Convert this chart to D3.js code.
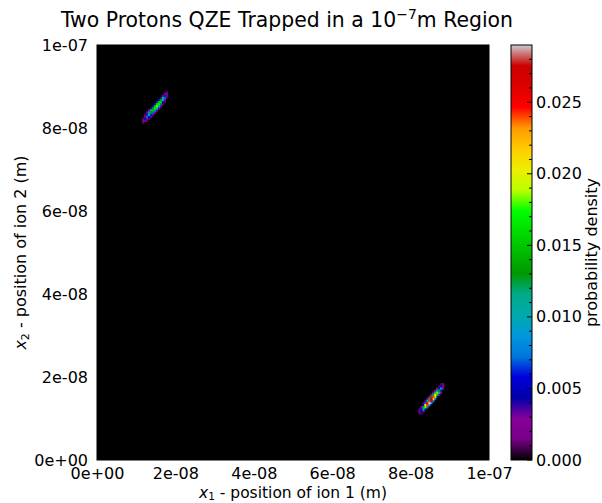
<!DOCTYPE html>
<html><head><meta charset="utf-8">
<script src="https://cdn.jsdelivr.net/npm/d3@7"></script>
<style>html,body{margin:0;padding:0;background:#fff}text{font-family:"DejaVu Sans",sans-serif}</style>
</head><body><svg id="c" width="602" height="503"></svg>
<script>
// ---- data ----
const xTicks = [0, 2e-8, 4e-8, 6e-8, 8e-8, 1e-7];
const xTickLabels = ["0e+00", "2e-08", "4e-08", "6e-08", "8e-08", "1e-07"];
const yTicks = [0, 2e-8, 4e-8, 6e-8, 8e-8, 1e-7];
const yTickLabels = ["0e+00", "2e-08", "4e-08", "6e-08", "8e-08", "1e-07"];
const cbTicks = [0, 0.005, 0.010, 0.015, 0.020, 0.025];
const cbTickLabels = ["0.000", "0.005", "0.010", "0.015", "0.020", "0.025"];
const cbMinorTicks = [0.001,0.002,0.003,0.004,0.006,0.007,0.008,0.009,0.011,0.012,0.013,0.014,0.016,0.017,0.018,0.019,0.021,0.022,0.023,0.024,0.026,0.027,0.028];
const densityMax = 0.029;
const gridN = 200;          // cells per axis
const regionSize = 1e-7;    // metres

// streak 1 (ion1 near 1.5e-8, ion2 near 8.5e-8): first centre cell and band rows (offset in j)
const blob1Start = [23, 163];
const blob1Offsets = [2, 1, 0, -1, -2];
const blob1Values = [
  [0, 0.001, 0.002, 0.003, 0.004, 0.005, 0.005, 0.006, 0.005, 0.004, 0.003, 0.002, 0.001],
  [0.001, 0.003, 0.006, 0.008, 0.011, 0.013, 0.015, 0.016, 0.015, 0.013, 0.010, 0.006, 0.003],
  [0.002, 0.004, 0.007, 0.010, 0.013, 0.015, 0.017, 0.018, 0.017, 0.015, 0.011, 0.007, 0.003],
  [0.001, 0.002, 0.003, 0.005, 0.006, 0.007, 0.008, 0.009, 0.008, 0.007, 0.005, 0.003, 0.001],
  [0, 0, 0.001, 0.001, 0.002, 0.002, 0.002, 0.003, 0.002, 0.002, 0.001, 0.001, 0]
];
// streak 2 (ion1 near 8.5e-8, ion2 near 1.5e-8)
const blob2Start = [164, 23];
const blob2Offsets = [2, 1, 0, -1, -2];
const blob2Values = [
  [0, 0, 0.001, 0.001, 0.002, 0.003, 0.003, 0.003, 0.002, 0.002, 0.001, 0.001, 0],
  [0.001, 0.002, 0.004, 0.007, 0.010, 0.012, 0.013, 0.012, 0.010, 0.008, 0.006, 0.004, 0.002],
  [0.002, 0.006, 0.012, 0.019, 0.025, 0.028, 0.027, 0.024, 0.021, 0.018, 0.013, 0.008, 0.003],
  [0.001, 0.005, 0.011, 0.018, 0.024, 0.029, 0.026, 0.022, 0.019, 0.015, 0.011, 0.006, 0.002],
  [0, 0.001, 0.003, 0.005, 0.007, 0.008, 0.009, 0.008, 0.007, 0.005, 0.003, 0.002, 0]
];

// ---- colormap (nipy_spectral stops) ----
const cmapStops = [[0,0,0],[0.4667,0,0.5333],[0.5333,0,0.6],[0,0,0.6667],[0,0,0.8667],[0,0.4667,0.8667],[0,0.6,0.8667],[0,0.6667,0.6667],[0,0.6667,0.5333],[0,0.6,0],[0,0.7333,0],[0,0.8667,0],[0,1,0],[0.7333,1,0],[0.9333,0.9333,0],[1,0.8,0],[1,0.6,0],[1,0,0],[0.8667,0,0],[0.8,0,0],[0.8,0.8,0.8]];

const svg = d3.select("#c");
const W = 602, H = 503;
const px0 = 97, px1 = 489, py0 = 45, py1 = 460;
const cbx0 = 511, cbx1 = 532;

const x = d3.scaleLinear().domain([0, regionSize]).range([px0, px1]);
const y = d3.scaleLinear().domain([0, regionSize]).range([py1, py0]);
const color = d3.scaleLinear()
  .domain(cmapStops.map((s, i) => densityMax * i / (cmapStops.length - 1)))
  .range(cmapStops.map(s => d3.rgb(s[0]*255, s[1]*255, s[2]*255)))
  .clamp(true);

svg.append("rect").attr("width", W).attr("height", H).attr("fill", "#fff");

// zero-density field
svg.append("rect").attr("x", x(0)).attr("y", y(regionSize))
  .attr("width", x(regionSize) - x(0)).attr("height", y(0) - y(regionSize))
  .attr("fill", color(0));

// cells
const cellSize = regionSize / gridN;
function cells(start, offsets, values) {
  const out = [];
  offsets.forEach((d, r) => values[r].forEach((v, k) => {
    if (v > 0) out.push({i: start[0] + k, j: start[1] + k + d, v});
  }));
  return out;
}
const allCells = cells(blob1Start, blob1Offsets, blob1Values).concat(cells(blob2Start, blob2Offsets, blob2Values));
allCells.sort((a, b) => a.v - b.v);
svg.append("g").selectAll("rect").data(allCells).join("rect")
  .attr("x", d => x(d.i * cellSize))
  .attr("y", d => y((d.j + 1) * cellSize))
  .attr("width", d => x((d.i + 1) * cellSize) - x(d.i * cellSize) + 0.3)
  .attr("height", d => y(d.j * cellSize) - y((d.j + 1) * cellSize) + 0.3)
  .attr("fill", d => color(d.v));

// frame
svg.append("rect").attr("x", px0).attr("y", py0).attr("width", px1 - px0).attr("height", py1 - py0)
  .attr("fill", "none").attr("stroke", "#000").attr("stroke-width", 1);

// axes
const fs = 16;
const xAxis = d3.axisBottom(x).tickValues(xTicks).tickFormat((d, i) => xTickLabels[i]).tickSize(0).tickPadding(8);
const gx = svg.append("g").attr("transform", `translate(0,${py1})`).call(xAxis);
gx.select(".domain").remove();
gx.selectAll("text").attr("font-size", fs).attr("fill", "#000").style("font-family", "DejaVu Sans");

const yAxis = d3.axisLeft(y).tickValues(yTicks).tickFormat((d, i) => yTickLabels[i]).tickSize(0).tickPadding(9);
const gy = svg.append("g").attr("transform", `translate(${px0},0)`).call(yAxis);
gy.select(".domain").remove();
gy.selectAll("text").attr("font-size", fs).attr("fill", "#000").style("font-family", "DejaVu Sans");

// colorbar
const cy = d3.scaleLinear().domain([0, densityMax]).range([py1, py0]);
const defs = svg.append("defs");
const grad = defs.append("linearGradient").attr("id", "cbg").attr("x1", 0).attr("y1", 1).attr("x2", 0).attr("y2", 0);
cmapStops.forEach((s, i) => grad.append("stop")
  .attr("offset", i / (cmapStops.length - 1))
  .attr("stop-color", color(densityMax * i / (cmapStops.length - 1))));
svg.append("rect").attr("x", cbx0).attr("y", py0).attr("width", cbx1 - cbx0).attr("height", py1 - py0)
  .attr("fill", "url(#cbg)");
svg.append("g").selectAll("line").data(cbTicks.concat(cbMinorTicks)).join("line")
  .attr("x1", cbx1).attr("x2", d => cbTicks.includes(d) ? cbx1 - 5 : cbx1 - 3)
  .attr("y1", d => cy(d)).attr("y2", d => cy(d))
  .attr("stroke", "#000").attr("stroke-width", 1);
svg.append("rect").attr("x", cbx0).attr("y", py0).attr("width", cbx1 - cbx0).attr("height", py1 - py0)
  .attr("fill", "none").attr("stroke", "#000").attr("stroke-width", 1);
svg.append("g").selectAll("text").data(cbTicks).join("text")
  .attr("x", cbx1 + 4).attr("y", d => cy(d)).attr("dy", "0.35em")
  .attr("font-size", fs).text((d, i) => cbTickLabels[i]);

svg.append("text").attr("transform", `translate(597,${(py0 + py1) / 2}) rotate(-90)`)
  .attr("text-anchor", "middle").attr("font-size", fs).text("probability density");

// axis labels
const xl = svg.append("text").attr("x", (px0 + px1) / 2).attr("y", 498).attr("text-anchor", "middle").attr("font-size", 15.5);
xl.append("tspan").attr("font-style", "italic").text("x");
xl.append("tspan").attr("font-size", 10.5).attr("dy", 2).text("1");
xl.append("tspan").attr("dy", -2).text(" - position of ion 1 (m)");

const yl = svg.append("text").attr("transform", `translate(26,${(py0 + py1) / 2}) rotate(-90)`)
  .attr("text-anchor", "middle").attr("font-size", fs);
yl.append("tspan").attr("font-style", "italic").text("x");
yl.append("tspan").attr("font-size", 11).attr("dy", 2.5).text("2");
yl.append("tspan").attr("dy", -2.5).text(" - position of ion 2 (m)");

// title
const tt = svg.append("text").attr("x", 287).attr("y", 27).attr("text-anchor", "middle").attr("font-size", 20.4);
tt.append("tspan").text("Two Protons QZE Trapped in a 10");
tt.append("tspan").attr("font-size", 14).attr("dy", -8.5).text("\u22127");
tt.append("tspan").attr("dy", 8.5).text("m Region");
</script></body></html>
